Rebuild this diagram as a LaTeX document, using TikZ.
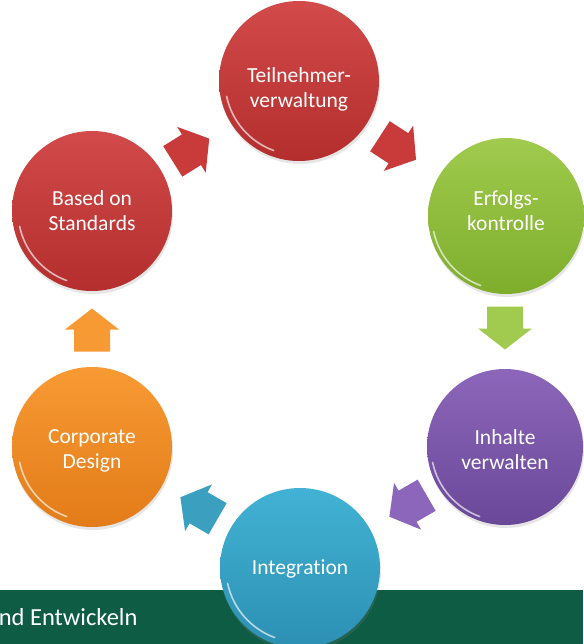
\documentclass[tikz,border=0pt]{standalone}
\usepackage{fontspec}
\setmainfont{Carlito}[Ligatures = NoCommon]
\usetikzlibrary{shadows}

\definecolor{redA}{HTML}{D24A4A}
\definecolor{redB}{HTML}{B42E2E}
\definecolor{redC}{HTML}{C93B3B}
\definecolor{greenA}{HTML}{A0CB4E}
\definecolor{greenB}{HTML}{7EAD2C}
\definecolor{purpleA}{HTML}{8C66BA}
\definecolor{purpleB}{HTML}{6A4898}
\definecolor{tealA}{HTML}{42B2D4}
\definecolor{tealB}{HTML}{2C90B3}
\definecolor{orangeA}{HTML}{F89A34}
\definecolor{orangeB}{HTML}{E27C18}
\definecolor{barGreen}{HTML}{0F5C45}

\begin{document}
\begin{tikzpicture}[x = 1pt, y = -1pt]
\tikzstyle{Ball}=[shape = circle,
                  minimum size = 160pt,
                  inner sep = 0pt,
                  drop shadow = {opacity = 0.2, shadow xshift = 1pt, shadow yshift = -3pt}]
\tikzstyle{BallText}=[text = white, align = center, font = \fontsize{21.5}{25}\selectfont]
\tikzstyle{Rim}=[white, opacity = 0.65, line width = 1.6pt, line cap = round]
\tikzset{BlockArrow/.pic = {
  \fill[pic actions] (-21.5,-18) -- (0.5,-18) -- (0.5,-27) -- (21.5,0)
                     -- (0.5,27) -- (0.5,18) -- (-21.5,18) -- cycle;}}

\useasboundingbox (0,0) rectangle (583,644);
\fill[barGreen] (0,590) rectangle (583,644);
\node[anchor = base east, text = white, font = \fontsize{24.5}{28}\selectfont] (bartext) at (141,625) {nd Entwickeln};

% block arrows
\pic[fill = redC, drop shadow = {opacity = 0.2}, rotate = 32] (arrBT) at (191,150) {BlockArrow};
\pic[fill = redC, drop shadow = {opacity = 0.2}, rotate = -33] (arrTE) at (398,148) {BlockArrow};
\pic[fill = greenA, drop shadow = {opacity = 0.2}, rotate = -90] (arrEI) at (505,328) {BlockArrow};
\pic[fill = purpleA, drop shadow = {opacity = 0.2}, rotate = 210] (arrII) at (408,506) {BlockArrow};
\pic[fill = tealA!90!black, drop shadow = {opacity = 0.2}, rotate = 150] (arrIC) at (199,508) {BlockArrow};
\pic[fill = orangeA, drop shadow = {opacity = 0.2}, rotate = 90] (arrCB) at (92,330) {BlockArrow};

% circles
\node[Ball, top color = redA, bottom color = redB] (tn) at (299,81) {};
\node[Ball, top color = greenA, bottom color = greenB, minimum size = 156pt] (ek) at (506,216) {};
\node[Ball, top color = purpleA, bottom color = purpleB, minimum size = 156pt] (iv) at (505,447) {};
\node[Ball, top color = tealA, bottom color = tealB] (ig) at (300,568) {};
\node[Ball, top color = orangeA, bottom color = orangeB] (cd) at (92,447) {};
\node[Ball, top color = redA, bottom color = redB] (bs) at (92,211) {};

\foreach \n in {tn,ek,iv,ig,cd,bs}
  \draw[Rim] ([shift = {(192:74pt)}]\n.center) arc[start angle = 192, end angle = 250, radius = 74pt];

% texts
\node[BallText] (tnText) at ([yshift = -8pt]tn.center) {Teilnehmer-\\verwaltung};
\node[BallText] (ekText) at ([yshift = 5pt]ek.center) {Erfolgs-\\kontrolle};
\node[BallText] (ivText) at ([yshift = -3pt]iv.center) {Inhalte\\verwalten};
\node[BallText] (igText) at ([yshift = -1pt]ig.center) {Integration};
\node[BallText] (cdText) at ([yshift = -4pt]cd.center) {Corporate\\Design};
\node[BallText] (bsText) at (bs.center) {Based on\\Standards};
\end{tikzpicture}
\end{document}
